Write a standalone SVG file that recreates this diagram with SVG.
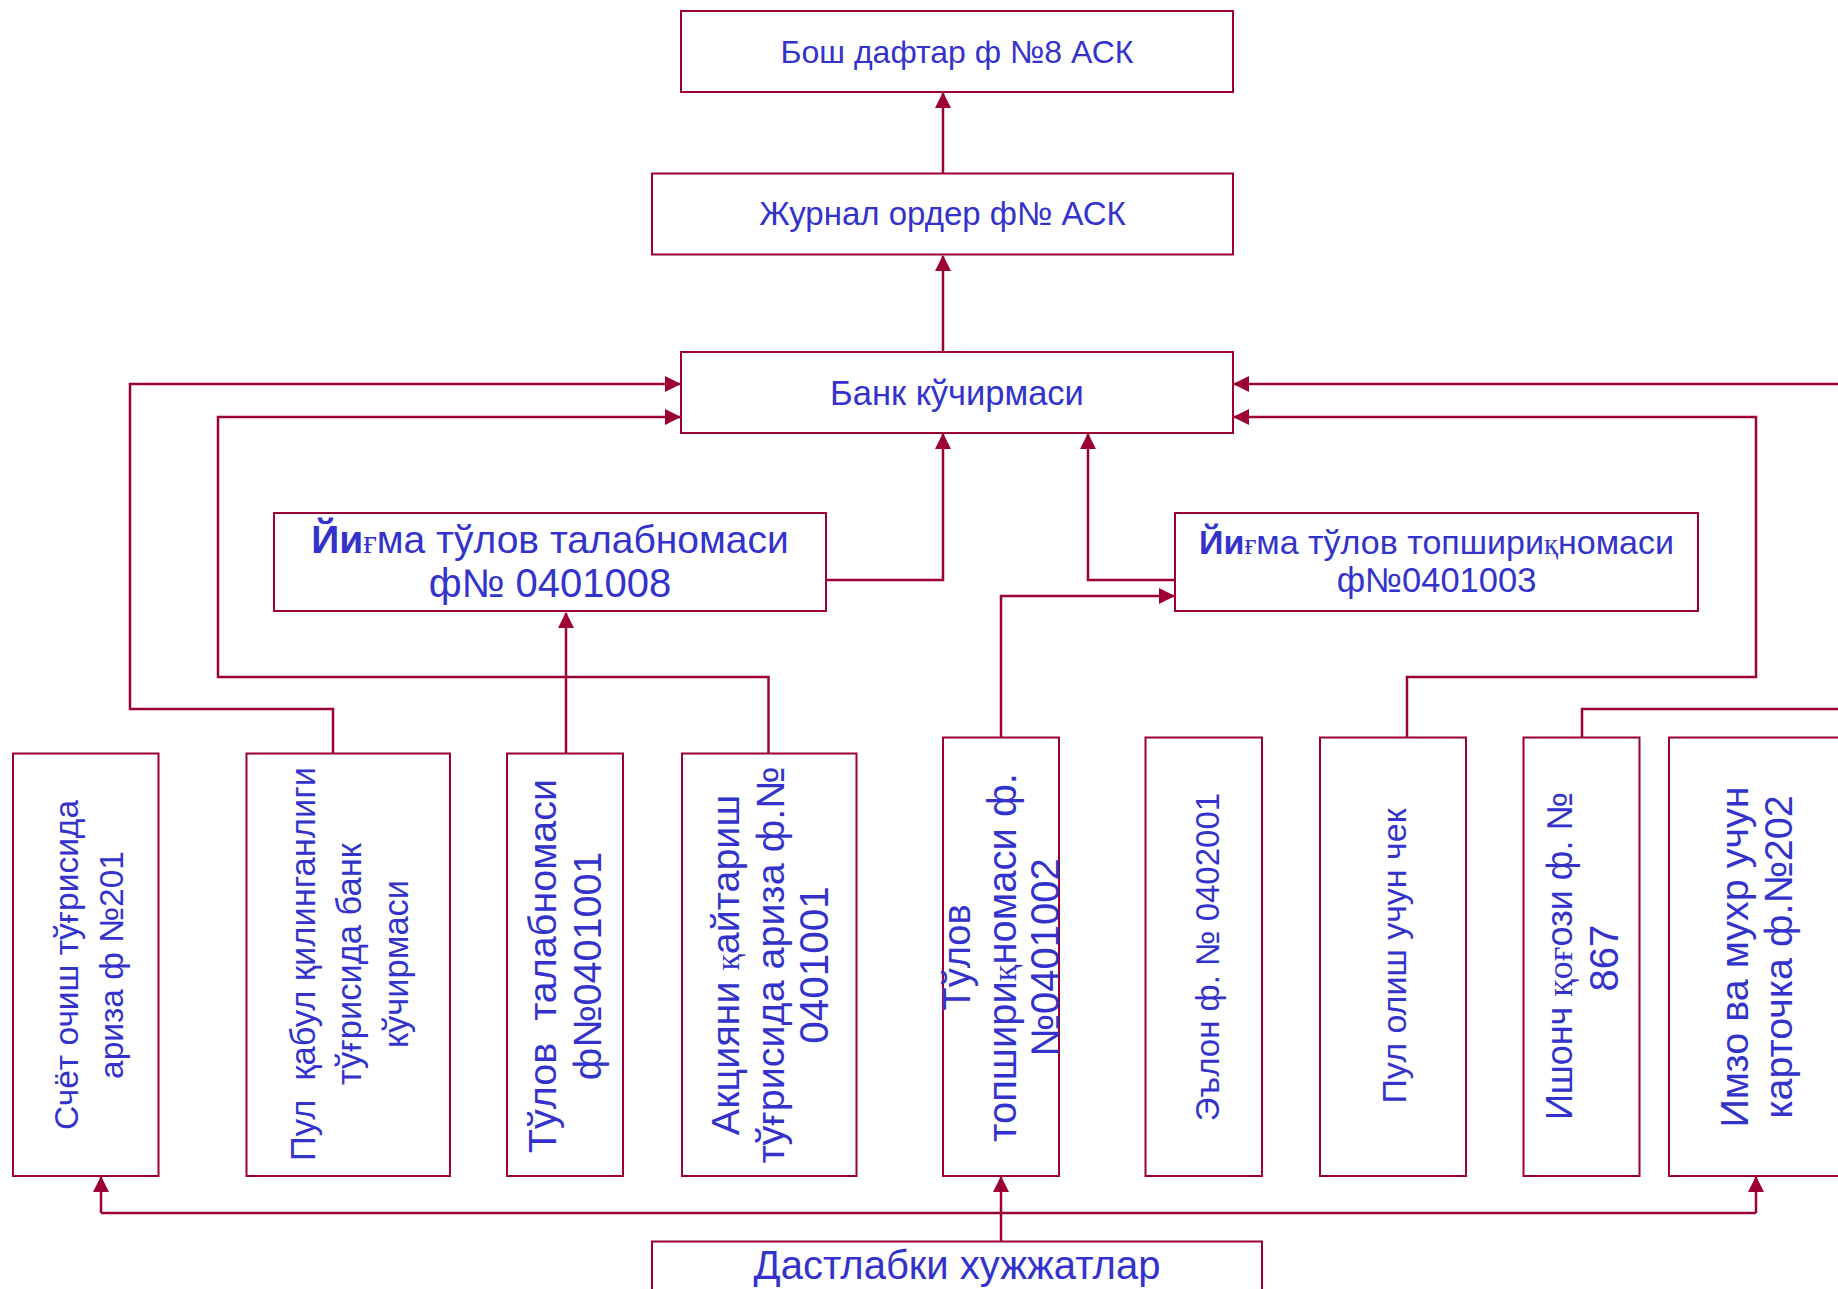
<svg xmlns="http://www.w3.org/2000/svg" width="1838" height="1289" viewBox="0 0 1838 1289">
<style>
.box{fill:#fff;stroke:#9C0036;stroke-width:2}
.t{fill:#3333CC;font-family:"Liberation Sans","DejaVu Sans",sans-serif;text-anchor:middle}
.s{font-family:"Liberation Serif","DejaVu Serif",serif;font-size:0.85em}
.sf{font-family:"Liberation Serif","DejaVu Serif",serif}
.b{font-weight:bold}
.c{fill:none;stroke:#9C0036;stroke-width:2.5}
</style>
<defs>
<marker id="ah" markerUnits="userSpaceOnUse" markerWidth="16" markerHeight="16" viewBox="0 0 16 16" refX="15" refY="8" orient="auto">
<path d="M0,0 L16,8 L0,16 Z" fill="#9C0036"/>
</marker>
</defs>
<rect width="1838" height="1289" fill="#fff"/>

<g id="connectors">
<path class="c" d="M943,173 V93" marker-end="url(#ah)"/>
<path class="c" d="M943,352 V256" marker-end="url(#ah)"/>
<path class="c" d="M333,753 V709 H130 V384 H680" marker-end="url(#ah)"/>
<path class="c" d="M768.5,754 V677 H218 V417 H680" marker-end="url(#ah)"/>
<path class="c" d="M566,753 V613" marker-end="url(#ah)"/>
<path class="c" d="M826,580 H943 V434" marker-end="url(#ah)"/>
<path class="c" d="M1175,580 H1088 V434" marker-end="url(#ah)"/>
<path class="c" d="M1001,737 V596 H1174" marker-end="url(#ah)"/>
<path class="c" d="M1407,737 V677 H1756 V417 H1234" marker-end="url(#ah)"/>
<path class="c" d="M1840,384 H1234" marker-end="url(#ah)"/>
<path class="c" d="M1582,737 V709 H1840"/>
<path class="c" d="M1001,1241 V1177" marker-end="url(#ah)"/>
<path class="c" d="M101,1213 H1756"/>
<path class="c" d="M101,1213 V1177" marker-end="url(#ah)"/>
<path class="c" d="M1756,1213 V1177" marker-end="url(#ah)"/>
</g>

<g id="n-bosh">
<rect class="box" x="681" y="11" width="552" height="81"/>
<text class="t" x="957" y="63" font-size="32">Бош дафтар ф №8 АСК</text>
</g>
<g id="n-jurnal">
<rect class="box" x="652" y="173.5" width="581" height="81"/>
<text class="t" x="942.5" y="225" font-size="33">Журнал ордер ф№ АСК</text>
</g>
<g id="n-bank">
<rect class="box" x="681" y="352" width="552" height="81"/>
<text class="t" x="957" y="405" font-size="34.5">Банк кўчирмаси</text>
</g>
<g id="n-yigma-talab">
<rect class="box" x="274" y="513" width="552" height="98"/>
<text class="t" font-size="39"><tspan x="550" y="553"><tspan class="b">Йи</tspan><tspan class="s">ғ</tspan>ма тўлов талабномаси</tspan><tspan x="550" y="597" font-size="40">ф№ 0401008</tspan></text>
</g>
<g id="n-yigma-topshir">
<rect class="box" x="1175" y="513" width="523" height="98"/>
<text class="t" font-size="34"><tspan x="1436.5" y="554"><tspan class="b">Йи</tspan><tspan class="s">ғ</tspan>ма тўлов топшири<tspan class="s">қ</tspan>номаси</tspan><tspan x="1436.5" y="592" font-size="34.5">ф№0401003</tspan></text>
</g>

<g id="n-schet">
<rect class="box" x="13" y="753.5" width="145.5" height="422.5"/>
<text class="t" transform="rotate(-90)" font-size="33.5"><tspan x="-965" y="77.5">Счёт очиш тўғрисида</tspan><tspan x="-965" y="123">ариза ф №201</tspan></text>
</g>
<g id="n-pul-qabul">
<rect class="box" x="246.5" y="753.5" width="203.5" height="422.5"/>
<text class="t" transform="rotate(-90)" font-size="34.5" xml:space="preserve"><tspan x="-964" y="315">Пул  қабул қилинганлиги</tspan><tspan x="-964" y="361">тўғрисида банк</tspan><tspan x="-964" y="408">кўчирмаси</tspan></text>
</g>
<g id="n-tulov-talab">
<rect class="box" x="507" y="753.5" width="116" height="422.5"/>
<text class="t" transform="rotate(-90)" font-size="39.5" xml:space="preserve"><tspan x="-966" y="555.5">Тўлов  талабномаси</tspan><tspan x="-966" y="601">ф№0401001</tspan></text>
</g>
<g id="n-aksiya">
<rect class="box" x="682" y="753.5" width="174.5" height="422.5"/>
<text class="t" transform="rotate(-90)" font-size="39.5"><tspan x="-965" y="738.5">Акцияни <tspan class="s">қ</tspan>айтариш</tspan><tspan x="-965" y="783.5">тўғрисида ариза ф.№</tspan><tspan x="-965" y="828" font-size="40.5">0401001</tspan></text>
</g>
<g id="n-tulov-topshir">
<rect class="box" x="943" y="737.5" width="116" height="438.5"/>
<text class="t" transform="rotate(-90)" font-size="40"><tspan x="-957.5" y="970" font-size="38">Тўлов</tspan><tspan x="-957.5" y="1015.5">топшири<tspan class="s">қ</tspan>номаси ф.</tspan><tspan x="-957.5" y="1059">№0401002</tspan></text>
</g>
<g id="n-elon">
<rect class="box" x="1145.5" y="737.5" width="116.5" height="438.5"/>
<text class="t" transform="rotate(-90)" font-size="33"><tspan x="-957" y="1218.5">Эълон ф. № 0402001</tspan></text>
</g>
<g id="n-pul-olish">
<rect class="box" x="1320" y="737.5" width="146" height="438.5"/>
<text class="t" transform="rotate(-90)" font-size="34"><tspan x="-956" y="1406">Пул олиш учун чек</tspan></text>
</g>
<g id="n-ishonch">
<rect class="box" x="1523.5" y="737.5" width="116" height="438.5"/>
<text class="t" transform="rotate(-90)" font-size="36"><tspan x="-956" y="1571.5">Ишонч <tspan class="sf">қоғ</tspan>ози ф. №</tspan><tspan x="-958" y="1618" font-size="40">867</tspan></text>
</g>
<g id="n-imzo">
<rect class="box" x="1669" y="737.5" width="180" height="438.5"/>
<text class="t" transform="rotate(-90)" font-size="39.5"><tspan x="-957" y="1748">Имзо ва мухр учун</tspan><tspan x="-957" y="1792">карточка ф.№202</tspan></text>
</g>
<g id="n-dastlabki">
<rect class="box" x="652" y="1241.5" width="610" height="60"/>
<text class="t" x="957" y="1279" font-size="40">Дастлабки хужжатлар</text>
</g>
</svg>
